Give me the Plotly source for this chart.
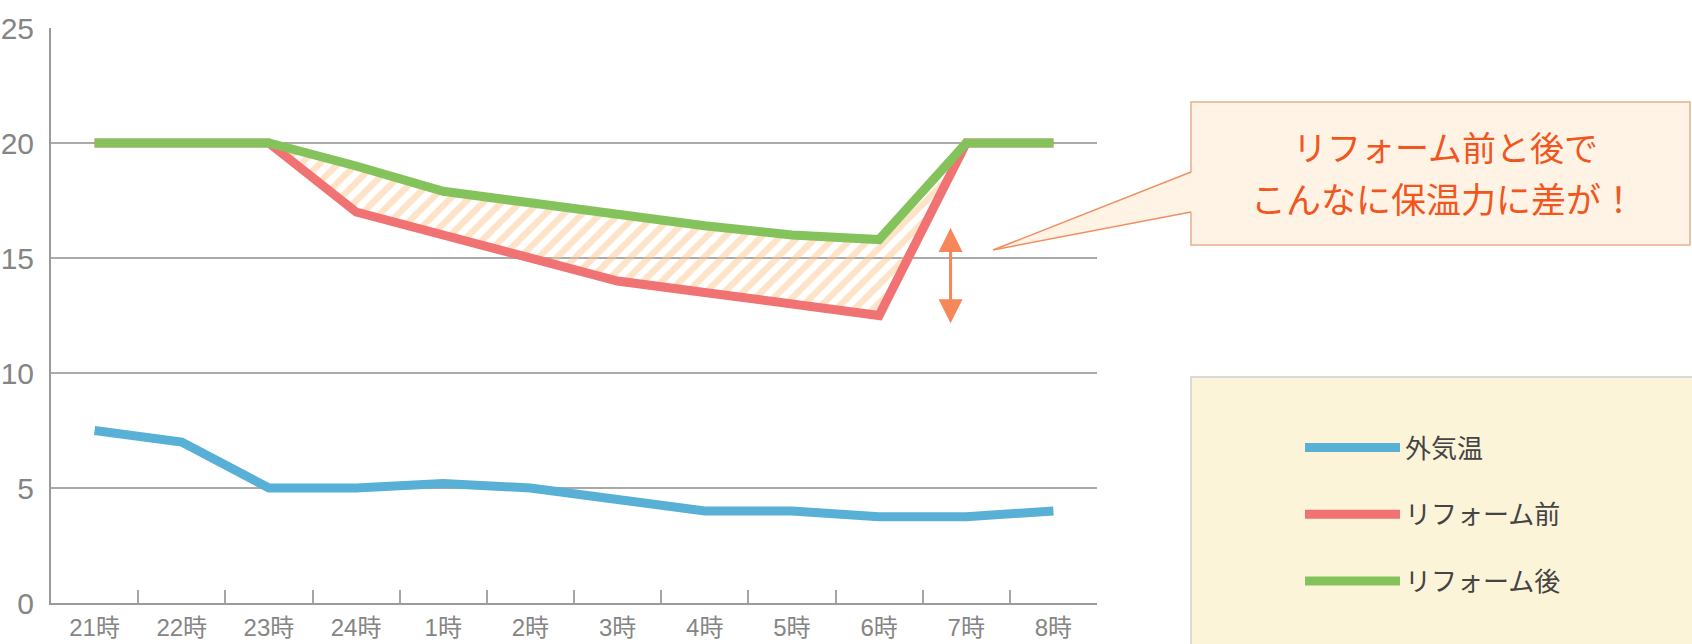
import plotly.graph_objects as go

# ---- data ----
hours = ["21時", "22時", "23時", "24時", "1時", "2時", "3時", "4時", "5時", "6時", "7時", "8時"]
outside_temp = [7.5, 7.0, 5.0, 5.0, 5.2, 5.0, 4.5, 4.0, 4.0, 3.75, 3.75, 4.0]
before_reform = [20, 20, 20, 17.0, 16.0, 15.0, 14.0, 13.5, 13.0, 12.5, 20, 20]
after_reform = [20, 20, 20, 19.0, 17.9, 17.4, 16.9, 16.4, 16.0, 15.8, 20, 20]
y_ticks = [0, 5, 10, 15, 20, 25]
series_names = ["外気温", "リフォーム前", "リフォーム後"]
callout_lines = ["リフォーム前と後で", "こんなに保温力に差が！"]

# ---- styling ----
W, H = 1692, 644
BLUE, RED, GREEN = "#58b0d6", "#f07272", "#84c35c"
NUM_FONT = "Liberation Sans, Arial, Noto Sans CJK JP"
JP_FONT = "Noto Sans CJK JP, Noto Sans, sans-serif"


def px(x):
    return x / W


def py(y):
    return 1 - y / H


fig = go.Figure()

# hatched band between before / after
fig.add_trace(go.Scatter(x=hours, y=before_reform, mode="lines",
                         line=dict(width=0, color="rgba(0,0,0,0)"),
                         showlegend=False, hoverinfo="skip"))
fig.add_trace(go.Scatter(x=hours, y=after_reform, mode="lines",
                         line=dict(width=0, color="rgba(0,0,0,0)"),
                         fill="tonexty", fillcolor="rgba(255,255,255,0)",
                         fillpattern=dict(shape="/", fgcolor="#fcc890",
                                          bgcolor="rgba(255,255,255,0)",
                                          size=13, solidity=0.5),
                         showlegend=False, hoverinfo="skip"))

for name, vals, color in zip(series_names,
                             [outside_temp, before_reform, after_reform],
                             [BLUE, RED, GREEN]):
    fig.add_trace(go.Scatter(x=hours, y=vals, mode="lines", name=name,
                             legendgroup=name,
                             line=dict(color=color, width=9)))

shapes = [
    # legend panel
    dict(type="rect", xref="paper", yref="paper",
         x0=px(1191), x1=px(1700), y0=py(377), y1=py(650),
         fillcolor="#fbf4d8", line=dict(color="#cfcfcf", width=1.5), layer="below"),
    # callout box
    dict(type="rect", xref="paper", yref="paper",
         x0=px(1191), x1=px(1690), y0=py(102), y1=py(245),
         fillcolor="#fff3e6", line=dict(color="#e6b08c", width=1.5), layer="above"),
    # callout tail fill
    dict(type="path", xref="paper", yref="paper",
         path=f"M {px(1193)} {py(172)} L {px(993)} {py(250)} L {px(1193)} {py(212)} Z",
         fillcolor="#fff3e6", line=dict(width=0), layer="above"),
    dict(type="path", xref="paper", yref="paper",
         path=f"M {px(1191)} {py(172)} L {px(993)} {py(250)} L {px(1191)} {py(212)}",
         line=dict(color="#f09060", width=1.5), layer="above"),
]

annotations = [
    dict(xref="paper", yref="paper", x=px(1445), y=py(146), text=callout_lines[0],
         showarrow=False, font=dict(family=JP_FONT, size=34, color="#f0561e"),
         xanchor="center", yanchor="middle"),
    dict(xref="paper", yref="paper", x=px(1443), y=py(197), text=callout_lines[1],
         showarrow=False, font=dict(family=JP_FONT, size=35, color="#f0561e"),
         xanchor="center", yanchor="middle"),
    # double arrow showing the gap at 6時
    dict(xref="x", yref="y", axref="x", ayref="y",
         x=9.82, y=after_reform[9] + 0.5, ax=9.82, ay=before_reform[9] - 0.4,
         text="", showarrow=True, arrowside="end+start", arrowhead=2,
         arrowsize=1.6, arrowwidth=3, arrowcolor="#f5875a"),
]

fig.update_layout(
    width=W, height=H,
    margin=dict(l=0, r=0, t=0, b=0, autoexpand=False),
    paper_bgcolor="white", plot_bgcolor="white",
    showlegend=True,
    xaxis=dict(domain=[px(51), px(1097)], type="category", range=[-0.5, 11.5],
               automargin=False,
               showgrid=False, zeroline=False,
               showline=True, linecolor="#9a9a9a", linewidth=2,
               ticks="inside", tickson="boundaries", ticklen=13, tickwidth=2,
               tickcolor="#a5a5a5", ticklabelstandoff=2,
               tickfont=dict(family=NUM_FONT, size=24, color="#858585"),
               fixedrange=True),
    yaxis=dict(domain=[1 - 603 / H, 1 - 28 / H], range=[0, 25],
               automargin=False,
               tickvals=y_ticks, ticktext=[str(v) for v in y_ticks],
               showgrid=True, gridcolor="#aaaaaa", gridwidth=2,
               zeroline=False, showline=True, linecolor="#9a9a9a", linewidth=2,
               ticks="", ticklabelstandoff=9,
               tickfont=dict(family=NUM_FONT, size=30, color="#858585"),
               fixedrange=True),
    legend=dict(x=px(1300), y=py(424), xanchor="left", yanchor="top",
                bgcolor="rgba(0,0,0,0)", borderwidth=0,
                font=dict(family=JP_FONT, size=26, color="#444444"),
                itemwidth=95, traceorder="grouped", tracegroupgap=30),
    shapes=shapes,
    annotations=annotations,
)

fig.write_html("out.html")
